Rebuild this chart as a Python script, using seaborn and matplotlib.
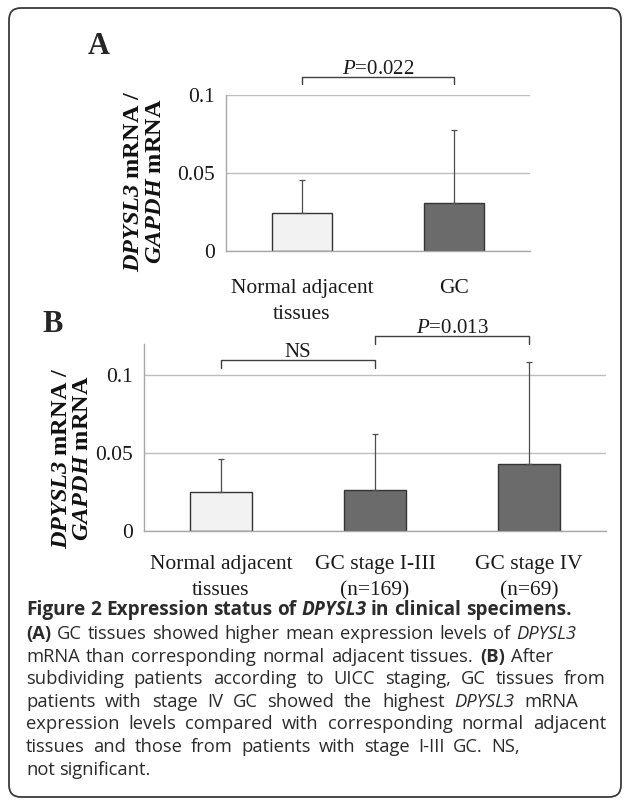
import numpy as np
import pandas as pd
import seaborn as sns
import matplotlib.pyplot as plt
from matplotlib.patches import FancyBboxPatch
from matplotlib.transforms import IdentityTransform

# ---- data ----
groups_a = ["Normal adjacent\ntissues", "GC"]
mean_a = [0.0245, 0.0306]
err_a = [0.0212, 0.0470]
colors_a = ["#f2f2f2", "#6b6b6b"]

groups_b = ["Normal adjacent\ntissues", "GC stage I-III\n(n=169)", "GC stage IV\n(n=69)"]
mean_b = [0.0248, 0.0260, 0.0431]
err_b = [0.0214, 0.0360, 0.0652]
colors_b = ["#f2f2f2", "#6b6b6b", "#6b6b6b"]

yticks = [0, 0.05, 0.1]
ytick_labels = ["0", "0.05", "0.1"]

# (left group, right group, label)
sig_a = [(0, 1, "$P$=0.022")]
sig_b = [(0, 1, "NS"), (1, 2, "$P$=0.013")]

ylabel = "$\\mathbfit{DPYSL3}$ mRNA /\n$\\mathbfit{GAPDH}$ mRNA"

caption = [
    [("Figure 2 Expression status of ", "bold", "normal"), ("DPYSL3", "bold", "italic"),
     (" in clinical specimens.", "bold", "normal")],
    [("(A)", "bold", "normal"), (" GC tissues showed higher mean expression levels of ", "normal", "normal"),
     ("DPYSL3", "normal", "italic")],
    [("mRNA than corresponding normal adjacent tissues. ", "normal", "normal"), ("(B)", "bold", "normal"),
     (" After", "normal", "normal")],
    [("subdividing patients according to UICC staging, GC tissues from", "normal", "normal")],
    [("patients with stage IV GC showed the highest ", "normal", "normal"), ("DPYSL3", "normal", "italic"),
     (" mRNA", "normal", "normal")],
    [("expression levels compared with corresponding normal adjacent", "normal", "normal")],
    [("tissues and those from patients with stage I-III GC. NS,", "normal", "normal")],
    [("not significant.", "normal", "normal")],
]
# right edge of each caption line in the reference (None = natural spacing)
caption_ends = [None, 576, 553, 606, 578, 606, 520, None]

W, H = 625, 801

sns.set_style("white")
plt.rcParams["font.family"] = ["Liberation Serif", "DejaVu Serif"]
plt.rcParams["mathtext.fontset"] = "custom"
plt.rcParams["mathtext.rm"] = "Liberation Serif"
plt.rcParams["mathtext.it"] = "Liberation Serif:italic"
plt.rcParams["mathtext.bf"] = "Liberation Serif:bold"
plt.rcParams["mathtext.bfit"] = "Liberation Serif:italic:bold"

fig = plt.figure(figsize=(W / 100, H / 100), dpi=100)
renderer = fig.canvas.get_renderer()


def text_width(s, size, family, weight, style):
    t = fig.text(0, 0, s, fontsize=size, family=family, weight=weight, style=style)
    w = t.get_window_extent(renderer).width
    t.remove()
    return w


def place_runs(runs, x0, y0, size, family, width=None, color="#222222"):
    """Lay out mixed-style word runs; x0/y0 = baseline start in pixels from the top-left."""
    toks = []
    pending = False
    for text, weight, style in runs:
        for k, w in enumerate(text.split(" ")):
            if k > 0:
                pending = True
            if w:
                toks.append([w, weight, style, pending and bool(toks)])
                pending = False
    sp = text_width("n n", size, family, "normal", "normal") - text_width("nn", size, family, "normal", "normal")
    widths = [text_width(w, size, family, wt, st) for w, wt, st, _ in toks]
    gaps = sum(1 for t in toks if t[3])
    natural = sum(widths) + sp * gaps
    extra = (width - natural) / gaps if (width and gaps) else 0
    pos = 0
    for (w, wt, st, g), wd in zip(toks, widths):
        if g:
            pos += sp + extra
        fig.text(x0 + pos, H - y0, w, fontsize=size, family=family, weight=wt, style=st, color=color,
                 ha="left", va="baseline", transform=IdentityTransform())
        pos += wd


def draw_panel(rect, groups, means, errs, colors, ylim, brackets, xpad):
    l, t, r, b = rect
    ax = fig.add_axes([l / W, 1 - b / H, (r - l) / W, (b - t) / H])
    df = pd.DataFrame({"group": groups, "value": means})
    sns.barplot(data=df, x="group", y="value", hue="group", palette=colors, saturation=1,
                width=0.4, edgecolor="#333333", linewidth=1.0, errorbar=None, legend=False, ax=ax)
    xs = np.arange(len(groups))
    ax.errorbar(xs, means, yerr=[np.zeros(len(errs)), errs], fmt="none", ecolor="#4d4d4d",
                elinewidth=0.9, capsize=2, capthick=0.9, zorder=3)

    ax.set_xlim(-0.5, len(groups) - 0.5)
    ax.set_ylim(*ylim)
    ax.set_yticks(yticks)
    ax.set_yticklabels(ytick_labels)
    ax.set_xlabel("")
    ax.set_ylabel("")
    ax.set_axisbelow(True)
    ax.yaxis.grid(True, color="#bdbdbd", lw=1.0)
    ax.xaxis.grid(False)
    for side in ["top", "right"]:
        ax.spines[side].set_visible(False)
    for side in ["left", "bottom"]:
        ax.spines[side].set_color("#a8a8a8")
        ax.spines[side].set_linewidth(1.0)

    ax.set_xticks(list(xs - 0.5) + [len(groups) - 0.5], minor=True)
    ax.tick_params(axis="y", length=5, width=1, color="#a8a8a8", pad=3, labelsize=15.5, labelcolor="#1a1a1a")
    ax.tick_params(axis="x", which="major", length=0, pad=xpad, labelsize=15.5, labelcolor="#1a1a1a")
    ax.tick_params(axis="x", which="minor", length=6, width=1, color="#a8a8a8", direction="out")
    for lab in ax.get_xticklabels():
        lab.set_linespacing(1.5)

    for i, j, label, y, drop in brackets:
        ax.plot([i, i, j, j], [y - drop, y, y, y - drop], color="#404040", lw=1.0, clip_on=False)
        ax.text((i + j) / 2, y + 0.0018, label, ha="center", va="baseline", fontsize=15, color="#1a1a1a")
    return ax


def draw_ylabel(xc, yc):
    fig.text(xc / W, 1 - yc / H, ylabel, fontsize=17.5, weight="bold", rotation=90,
             ha="center", va="center", multialignment="center", linespacing=1.05, color="#111111")


# panel A
draw_panel((226, 95, 530, 251), groups_a, mean_a, err_a, colors_a, (0, 0.1),
           [(s[0], s[1], s[2], 0.1115, 0.0045) for s in sig_a], xpad=20)
fig.text(99 / W, 1 - 46 / H, "A", fontsize=22, weight="bold", ha="center", va="center")
draw_ylabel(144.5, 181)

# panel B
bk_b = [(sig_b[0][0], sig_b[0][1], sig_b[0][2], 0.1099, 0.0051),
        (sig_b[1][0], sig_b[1][1], sig_b[1][2], 0.1253, 0.0054)]
draw_panel((144, 344, 606, 531), groups_b, mean_b, err_b, colors_b, (0, 0.12), bk_b, xpad=17)
fig.text(53 / W, 1 - 325 / H, "B", fontsize=22, weight="bold", ha="center", va="center")
draw_ylabel(72, 458)

# caption
cap_family = "Open Sans"
head = "".join(r[0] for r in caption[0])
cap_size = 12 * 549 / text_width(head, 12, cap_family, "bold", "normal")
for k, line in enumerate(caption):
    base = 615 if k == 0 else 639 + 22.6 * (k - 1)
    end = caption_ends[k]
    size = cap_size if k == 0 else cap_size * 0.97
    place_runs(line, 26, base, size, cap_family,
               width=(end - 26) if end else None, color="#2b2b2b")

# rounded frame
frame = FancyBboxPatch((9, H - 797), 612, 789, boxstyle="round,pad=0,rounding_size=12",
                       transform=IdentityTransform(), fill=False, lw=1.3, ec="#3a3a3a")
fig.add_artist(frame)

fig.savefig("out.png", dpi=100)
